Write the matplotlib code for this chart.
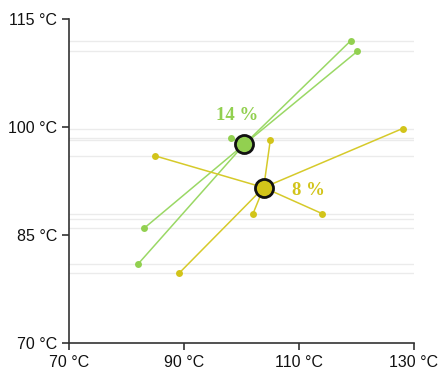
import matplotlib.pyplot as plt

# cluster points (x, y in °C)
green_x = [119.0, 120.1, 98.1, 83.1, 82.0]
green_y = [112.0, 110.5, 98.5, 86.0, 81.0]
yellow_x = [128.0, 85.0, 105.0, 102.0, 114.0, 89.1]
yellow_y = [99.8, 96.0, 98.2, 88.0, 88.0, 79.7]
green_label = "14 %"
yellow_label = "8 %"

# faint horizontal reference lines
ref_y = [112.0, 110.5, 99.8, 98.5, 98.2, 96.0, 88.0, 87.2, 86.0, 81.0, 79.7]

xticks = [70, 90, 110, 130]
yticks = [70, 85, 100, 115]

green = "#92d050"
green_line = "#9ad865"
yellow = "#d2c41a"
yellow_line = "#d6ca2a"

fig = plt.figure(figsize=(4.4, 3.71), dpi=100)
ax = fig.add_axes([0.157, 0.0747, 0.784, 0.874])

for y in ref_y:
    ax.plot([70, 130], [y, y], color="#ebebeb", lw=1.0, zorder=1)

def cluster(xs, ys, col, lcol, label, dx, dy):
    cx = sum(xs) / len(xs)
    cy = sum(ys) / len(ys)
    for x, y in zip(xs, ys):
        ax.plot([cx, x], [cy, y], color=lcol, lw=1.1, zorder=2)
    ax.plot(xs, ys, "o", color=col, ms=5, mec="none", zorder=3)
    ax.plot(cx, cy, "o", color=col, ms=13, mec="#111111", mew=2, zorder=4)
    ax.text(cx + dx, cy + dy, label, color=col, fontsize=13.5, fontweight="bold",
            family="Liberation Serif", ha="center", va="center", zorder=5)

cluster(green_x, green_y, green, green_line, green_label, -1.3, 4.0)
cluster(yellow_x, yellow_y, yellow, yellow_line, yellow_label, 7.7, -0.4)

ax.set_xlim(70, 130)
ax.set_ylim(70, 115)
ax.set_xticks(xticks)
ax.set_yticks(yticks)
ax.set_xticklabels([f"{t} °C" for t in xticks])
ax.set_yticklabels([f"{t} °C" for t in yticks])
for s in ["top", "right"]:
    ax.spines[s].set_visible(False)
for s in ["left", "bottom"]:
    ax.spines[s].set_color("#333333")
    ax.spines[s].set_linewidth(1.2)
ax.tick_params(colors="#333333", labelcolor="#111111", labelsize=11.5, length=5, width=1.2)
for lab in ax.get_xticklabels() + ax.get_yticklabels():
    lab.set_family("Liberation Sans")

fig.savefig("out.png", dpi=100)
